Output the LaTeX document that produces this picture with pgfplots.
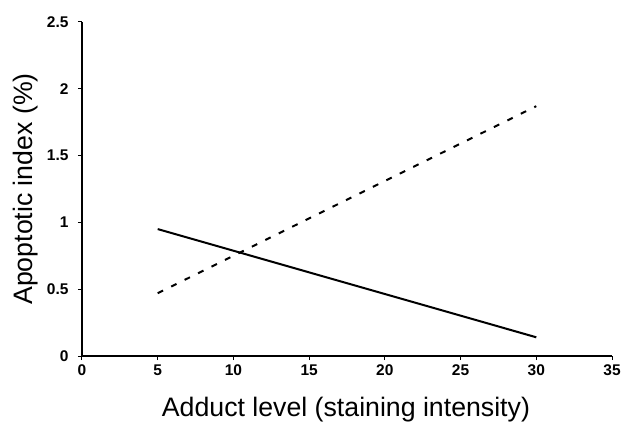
\documentclass[border=0pt]{standalone}
\usepackage{pgfplots}
\pgfplotsset{compat=1.18}
\usepackage{fontspec}
\setmainfont{Liberation Sans}

\begin{document}
\begin{tikzpicture}[x=1pt,y=1pt]
\path[use as bounding box] (0,0) rectangle (624,426);
\begin{axis}[
    at={(82pt,70pt)}, anchor=south west,
    scale only axis, width=530pt, height=334pt,
    xmin=0, xmax=35, ymin=0, ymax=2.5,
    axis x line*=bottom, axis y line*=left,
    axis line style={line width=1.1pt, -},
    tick align=outside, major tick length=4pt,
    tick style={line width=1pt, black},
    xtick={0,5,...,35}, ytick={0,0.5,1,1.5,2,2.5},
    /pgf/number format/assume math mode=true,
    tick label style={font=\fontsize{15.5}{15.5}\selectfont\bfseries},
    xticklabel style={yshift=-1pt},
    yticklabel style={xshift=-6pt},
    label style={font=\fontsize{26.7}{26.7}\selectfont},
    xlabel={Adduct level (staining intensity)},
    ylabel={Apoptotic index (\%)},
    xlabel style={at={(axis description cs:0.498,-0.1826)}, anchor=base},
    ylabel style={at={(axis description cs:-0.0925,0.5)}, anchor=base},
    clip=false,
]
\addplot[black, line width=2pt] coordinates {(5,0.95) (30,0.14)};
\addplot[black, line width=2pt, dash pattern=on 6pt off 9pt] coordinates {(5,0.47) (30,1.87)};
\end{axis}
\end{tikzpicture}
\end{document}
